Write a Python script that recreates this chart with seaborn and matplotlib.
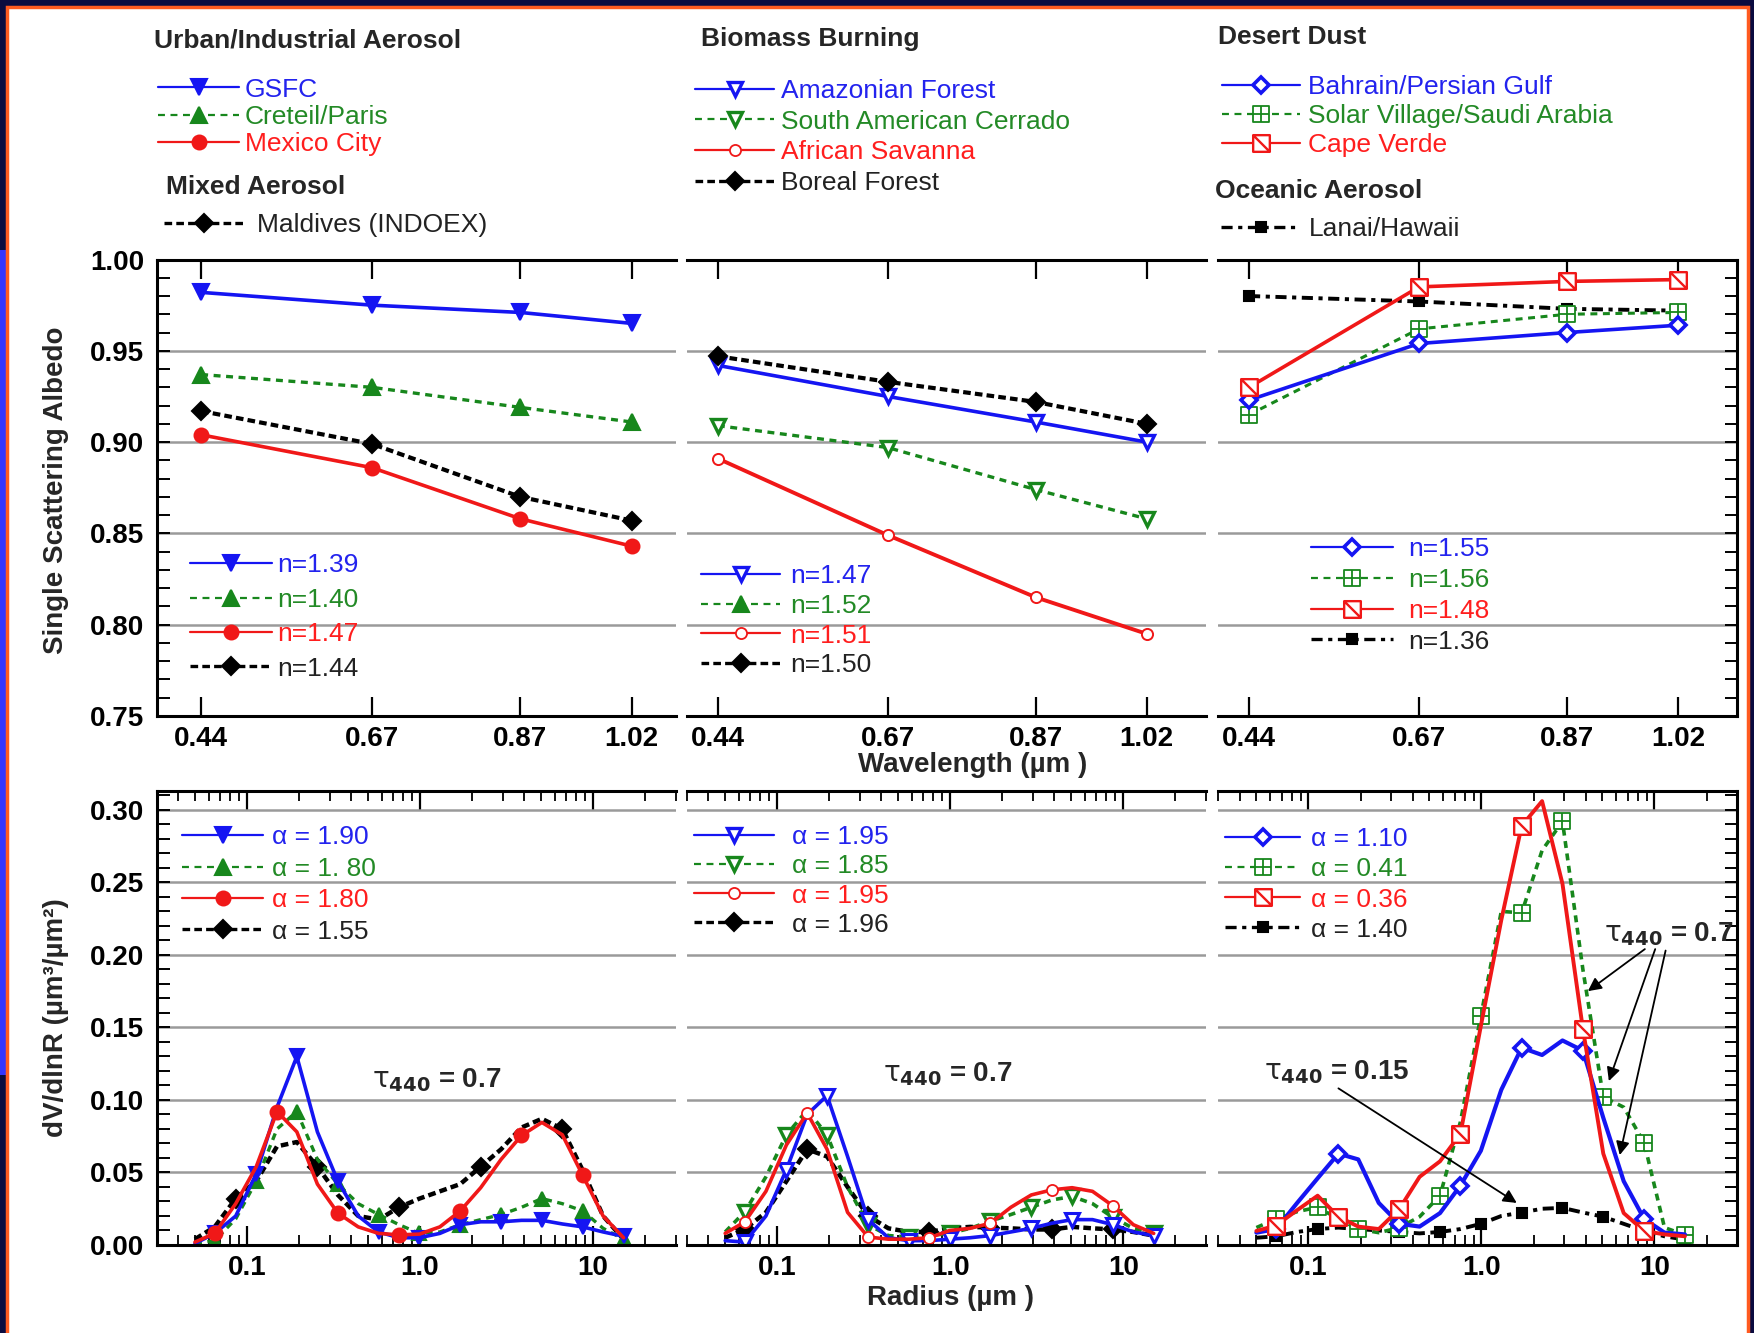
import numpy as np
import matplotlib
matplotlib.use("Agg")
import matplotlib.pyplot as plt
import seaborn as sns
from matplotlib.lines import Line2D
from matplotlib.path import Path
from matplotlib.patches import Rectangle
from matplotlib.ticker import MultipleLocator, LogLocator, NullFormatter

sns.set_theme(style="white")
plt.rcParams["font.family"] = ["Liberation Sans", "DejaVu Sans"]
plt.rcParams["lines.scale_dashes"] = False

# ---------------- single scattering albedo vs wavelength ----------------
wavelength = [0.44, 0.67, 0.87, 1.02]
wavelength_labels = ["0.44", "0.67", "0.87", "1.02"]

ssa_gsfc = [0.982, 0.975, 0.971, 0.965]
ssa_creteil = [0.937, 0.930, 0.919, 0.911]
ssa_mexico = [0.904, 0.886, 0.858, 0.843]
ssa_maldives = [0.917, 0.899, 0.870, 0.857]

ssa_amazon = [0.942, 0.925, 0.911, 0.900]
ssa_cerrado = [0.909, 0.897, 0.874, 0.858]
ssa_savanna = [0.891, 0.849, 0.815, 0.795]
ssa_boreal = [0.947, 0.933, 0.922, 0.910]

ssa_bahrain = [0.923, 0.954, 0.960, 0.964]
ssa_solar = [0.915, 0.962, 0.970, 0.971]
ssa_capeverde = [0.930, 0.985, 0.988, 0.989]
ssa_lanai = [0.980, 0.977, 0.973, 0.972]

# ---------------- volume size distributions ----------------
radius = [0.050, 0.065, 0.086, 0.113, 0.149, 0.194, 0.255, 0.335, 0.439, 0.576, 0.756,
          0.992, 1.302, 1.708, 2.241, 2.940, 3.857, 5.061, 6.641, 8.713, 11.43, 15.0]

dv_gsfc = [0.001, 0.008, 0.020, 0.049, 0.095, 0.130, 0.078, 0.044, 0.020, 0.009, 0.005,
           0.005, 0.008, 0.014, 0.016, 0.016, 0.017, 0.017, 0.0145, 0.0125, 0.009, 0.006]
dv_creteil = [0.001, 0.003, 0.018, 0.044, 0.080, 0.092, 0.059, 0.042, 0.0285, 0.021, 0.014,
              0.008, 0.009, 0.014, 0.0175, 0.021, 0.026, 0.032, 0.0285, 0.0235, 0.0115, 0.004]
dv_mexico = [0.002, 0.008, 0.0285, 0.054, 0.092, 0.078, 0.042, 0.022, 0.0125, 0.008, 0.007,
             0.0075, 0.0125, 0.0235, 0.0395, 0.059, 0.0755, 0.0845, 0.076, 0.048, 0.020, 0.005]
dv_maldives = [0.004, 0.0125, 0.032, 0.044, 0.068, 0.071, 0.054, 0.0345, 0.020, 0.0175, 0.026,
               0.032, 0.037, 0.042, 0.054, 0.066, 0.081, 0.087, 0.080, 0.0515, 0.020, 0.004]

dv_amazon = [0.003, 0.002, 0.020, 0.052, 0.090, 0.103, 0.061, 0.0175, 0.005, 0.003, 0.003,
             0.004, 0.005, 0.0065, 0.009, 0.0115, 0.015, 0.0175, 0.0175, 0.014, 0.009, 0.0065]
dv_cerrado = [0.009, 0.023, 0.047, 0.076, 0.093, 0.076, 0.040, 0.014, 0.0065, 0.0055, 0.0065,
              0.008, 0.0115, 0.0165, 0.021, 0.026, 0.031, 0.0335, 0.0285, 0.019, 0.0115, 0.008]
dv_savanna = [0.008, 0.016, 0.037, 0.069, 0.091, 0.066, 0.0225, 0.0055, 0.004, 0.004, 0.005,
              0.010, 0.0115, 0.015, 0.026, 0.0345, 0.038, 0.0395, 0.037, 0.027, 0.014, 0.008]
dv_boreal = [0.005, 0.011, 0.0225, 0.044, 0.066, 0.061, 0.040, 0.020, 0.0115, 0.009, 0.009,
             0.0115, 0.0125, 0.012, 0.0115, 0.0107, 0.0107, 0.0125, 0.0115, 0.0107, 0.009, 0.0065]

dv_bahrain = [0.0085, 0.011, 0.029, 0.046, 0.063, 0.059, 0.029, 0.0146, 0.0127, 0.022, 0.041,
              0.065, 0.107, 0.136, 0.131, 0.141, 0.134, 0.0877, 0.044, 0.018, 0.0085, 0.0073]
dv_solar = [0.012, 0.018, 0.023, 0.026, 0.018, 0.011, 0.0085, 0.012, 0.0195, 0.034, 0.085,
            0.158, 0.230, 0.229, 0.272, 0.292, 0.190, 0.102, 0.095, 0.0706, 0.012, 0.007]
dv_capeverde = [0.0097, 0.0134, 0.024, 0.034, 0.0195, 0.0127, 0.011, 0.0248, 0.047, 0.0577, 0.0767,
                0.151, 0.224, 0.289, 0.306, 0.249, 0.149, 0.063, 0.022, 0.0097, 0.0073, 0.006]
dv_lanai = [0.005, 0.006, 0.009, 0.011, 0.012, 0.011, 0.010, 0.009, 0.008, 0.009, 0.011,
            0.0146, 0.020, 0.0224, 0.025, 0.0256, 0.0224, 0.0195, 0.0146, 0.0097, 0.006, 0.0037]

radius_ticks = [0.1, 1.0, 10.0]
radius_labels = ["0.1", "1.0", "10"]
dv_ticks = [0.00, 0.05, 0.10, 0.15, 0.20, 0.25, 0.30]
ssa_ticks = [0.75, 0.80, 0.85, 0.90, 0.95, 1.00]

# ---------------- styling ----------------
BLUE, GREEN, RED, BLACK = "#1515f2", "#17871c", "#f01818", "#000000"
TXT = {"b": "#2323ee", "g": "#238a26", "r": "#ff1e1e", "k": "#222222"}
DASH_G = (0, (5, 4))
DASH_K = (0, (5.5, 3))
DASHDOT = (0, (8, 4, 3, 4))

grid_square = Path(
    [(-1, -1), (1, -1), (1, 1), (-1, 1), (-1, -1), (0, -1), (0, 1), (-1, 0), (1, 0)],
    [Path.MOVETO, Path.LINETO, Path.LINETO, Path.LINETO, Path.CLOSEPOLY,
     Path.MOVETO, Path.LINETO, Path.MOVETO, Path.LINETO])
slash_square = Path(
    [(-1, -1), (1, -1), (1, 1), (-1, 1), (-1, -1), (-1, 1), (1, -1)],
    [Path.MOVETO, Path.LINETO, Path.LINETO, Path.LINETO, Path.CLOSEPOLY,
     Path.MOVETO, Path.LINETO])


def style(color, ls, marker, ms, filled=True, lw=2.6, mew=1.5):
    return dict(color=color, linestyle=ls, linewidth=lw, marker=marker, markersize=ms,
                markerfacecolor=color if filled else "white",
                markeredgecolor=color, markeredgewidth=mew)


def key(color, ls, marker, ms, filled=True, lw=1.6, mew=1.5):
    return Line2D([], [], **style(color, ls, marker, ms, filled, lw, mew))


def draw(ax, x, y, st, every=None):
    sns.lineplot(x=x, y=y, ax=ax, sort=False, estimator=None, legend=False,
                 markevery=every, **st)


W, H = 1754, 1333
fig = plt.figure(figsize=(W / 100, H / 100), dpi=100)
fig.patch.set_facecolor("#0b0b3f")


def fx(px):
    return px / W


def fy(py):
    return 1 - py / H


fig.add_artist(Rectangle((0, fy(1075)), fx(6), fy(250) - fy(1075), transform=fig.transFigure,
                         facecolor="#3434ff", edgecolor="none", zorder=-6))
fig.add_artist(Rectangle((fx(7), -0.01), fx(1748) - fx(7), fy(7) + 0.01, transform=fig.transFigure,
                         facecolor="white", edgecolor="#ff5a1f", lw=2.5, zorder=-5))

col_x = [156.6, 686.8, 1218.0]
col_w = 519.0
rows = [(259.5, 716.0), (791.0, 1245.0)]
axes = [[fig.add_axes([fx(x0), fy(yb), col_w / W, (yb - yt) / H]) for x0 in col_x]
        for (yt, yb) in rows]


def frame(ax, col):
    ax.set_facecolor("white")
    for s in ax.spines.values():
        s.set_color("black")
        s.set_linewidth(2.2)
    ax.spines["left"].set_visible(col == 0)
    ax.spines["right"].set_visible(col == 2)
    ax.grid(axis="y", which="major", color="#9a9a9a", lw=1.8)
    ax.grid(axis="x", visible=False)
    ax.set_axisbelow(True)
    ax.tick_params(axis="x", which="both", direction="in", top=True, bottom=True,
                   color="black", labelsize=20, pad=7, labelcolor="black")
    ax.tick_params(axis="x", which="major", length=14, width=1.6)
    ax.tick_params(axis="x", which="minor", length=7, width=1.3)
    ax.tick_params(axis="y", which="both", direction="in", left=(col == 0), right=(col == 2),
                   labelleft=(col == 0), labelright=False, length=9, width=1.4,
                   color="black", labelsize=20, pad=9, labelcolor="black")
    ax.set_xlabel("")
    ax.set_ylabel("")


# ---------------- top row: albedo ----------------
wl_limits = [(0.38, 1.079), (0.398, 1.10), (0.398, 1.10)]
for c in range(3):
    ax = axes[0][c]
    ax.set_xlim(*wl_limits[c])
    ax.set_ylim(0.75, 1.0)

ax = axes[0][0]
draw(ax, wavelength, ssa_gsfc, style(BLUE, "-", "v", 11))
draw(ax, wavelength, ssa_creteil, style(GREEN, DASH_G, "^", 11, lw=2.4))
draw(ax, wavelength, ssa_mexico, style(RED, "-", "o", 10))
draw(ax, wavelength, ssa_maldives, style(BLACK, DASH_K, "D", 9, lw=3.0))

ax = axes[0][1]
draw(ax, wavelength, ssa_cerrado, style(GREEN, DASH_G, "v", 10, filled=False, lw=2.4, mew=2.4))
draw(ax, wavelength, ssa_savanna, style(RED, "-", "o", 8, filled=False, lw=2.8, mew=1.4))
draw(ax, wavelength, ssa_amazon, style(BLUE, "-", "v", 10, filled=False, mew=2.4))
draw(ax, wavelength, ssa_boreal, style(BLACK, DASH_K, "D", 9, lw=3.0))

ax = axes[0][2]
draw(ax, wavelength, ssa_lanai, style(BLACK, DASHDOT, "s", 7, lw=2.8))
draw(ax, wavelength, ssa_solar, style(GREEN, DASH_G, grid_square, 12, filled=False, lw=2.2, mew=1.3))
draw(ax, wavelength, ssa_bahrain, style(BLUE, "-", "D", 8, filled=False, mew=2.6))
draw(ax, wavelength, ssa_capeverde, style(RED, "-", slash_square, 12, filled=False, mew=1.7))

for c in range(3):
    ax = axes[0][c]
    frame(ax, c)
    ax.set_xticks(wavelength)
    ax.set_xticklabels(wavelength_labels, fontweight="bold")
    ax.set_yticks(ssa_ticks)
    ax.set_yticklabels(["%.2f" % v for v in ssa_ticks], fontweight="bold")
    ax.yaxis.set_minor_locator(MultipleLocator(0.01))

axes[0][0].set_ylabel("Single Scattering Albedo", fontsize=20, fontweight="bold")
axes[0][0].yaxis.set_label_coords(-0.168, 0.495)
axes[0][1].set_xlabel("Wavelength (\u00b5m )", fontsize=20, fontweight="bold", va="center")
axes[0][1].xaxis.set_label_coords(0.551, -0.107)

# ---------------- bottom row: size distributions ----------------
for c in range(3):
    ax = axes[1][c]
    ax.set_xscale("log")
    ax.set_xlim(0.03, 30)
    ax.set_ylim(0, 0.313)

ax = axes[1][0]
draw(ax, radius, dv_maldives, style(BLACK, DASH_K, "D", 9, lw=3.2), (2, 4))
draw(ax, radius, dv_creteil, style(GREEN, DASH_G, "^", 10, lw=2.4), (1, 2))
draw(ax, radius, dv_gsfc, style(BLUE, "-", "v", 10, lw=2.6), (1, 2))
draw(ax, radius, dv_mexico, style(RED, "-", "o", 10, lw=2.6), (1, 3))

ax = axes[1][1]
draw(ax, radius, dv_boreal, style(BLACK, DASH_K, "D", 9, lw=3.2), (1, 3))
draw(ax, radius, dv_cerrado, style(GREEN, DASH_G, "v", 10, filled=False, lw=2.6, mew=2.4), (1, 2))
draw(ax, radius, dv_amazon, style(BLUE, "-", "v", 10, filled=False, lw=2.6, mew=2.2), (1, 2))
draw(ax, radius, dv_savanna, style(RED, "-", "o", 8, filled=False, lw=2.6, mew=1.3), (1, 3))

ax = axes[1][2]
draw(ax, radius, dv_lanai, style(BLACK, DASHDOT, "s", 7, lw=2.8), (1, 2))
draw(ax, radius, dv_solar, style(GREEN, DASH_G, grid_square, 12, filled=False, lw=2.6, mew=1.3), (1, 2))
draw(ax, radius, dv_bahrain, style(BLUE, "-", "D", 8, filled=False, lw=3.0, mew=2.6), (1, 3))
draw(ax, radius, dv_capeverde, style(RED, "-", slash_square, 12, filled=False, lw=2.8, mew=1.7), (1, 3))

for c in range(3):
    ax = axes[1][c]
    frame(ax, c)
    ax.set_xticks(radius_ticks)
    ax.set_xticklabels(radius_labels, fontweight="bold")
    ax.xaxis.set_minor_locator(LogLocator(base=10, subs=np.arange(2, 10) * 1.0, numticks=30))
    ax.xaxis.set_minor_formatter(NullFormatter())
    ax.set_yticks(dv_ticks)
    ax.set_yticklabels(["%.2f" % v for v in dv_ticks], fontweight="bold")
    ax.yaxis.set_minor_locator(MultipleLocator(0.01))

axes[1][0].set_ylabel("dV/dlnR (\u00b5m\u00b3/\u00b5m\u00b2)", fontsize=20, fontweight="bold")
axes[1][0].yaxis.set_label_coords(-0.168, 0.50)
axes[1][1].set_xlabel("Radius (\u00b5m )", fontsize=20, fontweight="bold", va="center")
axes[1][1].xaxis.set_label_coords(0.509, -0.116)

tau07 = r"$\mathrm{\tau}_{\mathbf{440}}$ = 0.7"
axes[1][0].text(0.53, 0.114, tau07, fontsize=20, fontweight="bold", ha="left", va="center")
axes[1][1].text(0.41, 0.118, tau07, fontsize=20, fontweight="bold", ha="left", va="center")
axes[1][2].text(0.055, 0.119, r"$\mathrm{\tau}_{\mathbf{440}}$ = 0.15", fontsize=20,
                fontweight="bold", ha="left", va="center")
axes[1][2].text(28.5, 0.214, tau07, fontsize=20, fontweight="bold", ha="right", va="center")

arrow = dict(arrowstyle="-|>", lw=1.3, color="black", mutation_scale=20, shrinkA=0, shrinkB=0)
axes[1][2].annotate("", xy=(1.6, 0.029), xytext=(0.149, 0.108), arrowprops=arrow)
for start, end in [((8.8, 0.204), (4.12, 0.175)),
                   ((10.1, 0.204), (5.45, 0.113)),
                   ((11.6, 0.203), (6.3, 0.062))]:
    axes[1][2].annotate("", xy=end, xytext=start, arrowprops=arrow)

# ---------------- legends ----------------
FS = 19


def legend(handles, labels, colors, x_key, y_rows, key_px, gap_px, size=FS):
    fs_px = size * 100 / 72
    text_h = 0.917 * fs_px
    if len(y_rows) > 1:
        spacing = (y_rows[-1] - y_rows[0]) / (len(y_rows) - 1)
        lsp = (spacing - text_h) / fs_px
    else:
        lsp = 0.0
    yc = (y_rows[0] + y_rows[-1]) / 2
    fig.legend(handles, labels, loc="center left", bbox_to_anchor=(fx(x_key), fy(yc)),
               bbox_transform=fig.transFigure, frameon=False, fontsize=size,
               handlelength=key_px / fs_px, handletextpad=gap_px / fs_px, labelspacing=lsp,
               borderpad=0, borderaxespad=0, labelcolor=colors, numpoints=1)


k_gsfc = key(BLUE, "-", "v", 11)
k_creteil = key(GREEN, DASH_G, "^", 11)
k_mexico = key(RED, "-", "o", 10)
k_maldives = key(BLACK, DASH_K, "D", 9, lw=2.4)
k_amazon = key(BLUE, "-", "v", 10, filled=False, mew=2.4)
k_cerrado = key(GREEN, DASH_G, "v", 10, filled=False, mew=2.4)
k_cerrado_n = key(GREEN, DASH_G, "^", 11)
k_savanna = key(RED, "-", "o", 8, filled=False, mew=1.3)
k_boreal = key(BLACK, DASH_K, "D", 9, lw=2.4)
k_bahrain = key(BLUE, "-", "D", 8, filled=False, mew=2.6)
k_solar = key(GREEN, DASH_G, grid_square, 12, filled=False, mew=1.3)
k_cape = key(RED, "-", slash_square, 12, filled=False, mew=1.7)
k_lanai = key(BLACK, DASHDOT, "s", 7, lw=2.4)

# figure-level group legends
fig.text(fx(154), fy(41), "Urban/Industrial Aerosol", fontsize=FS, fontweight="bold", va="center")
legend([k_gsfc, k_creteil, k_mexico], ["GSFC", "Creteil/Paris", "Mexico City"],
       [TXT["b"], TXT["g"], TXT["r"]], 158, [89.5, 116.3, 144.3], 81, 6)
fig.text(fx(165.5), fy(187), "Mixed Aerosol", fontsize=FS, fontweight="bold", va="center")
legend([k_maldives], ["Maldives (INDOEX)"], [TXT["k"]], 164, [225], 79, 14)

fig.text(fx(701), fy(39), "Biomass Burning", fontsize=FS, fontweight="bold", va="center")
legend([k_amazon, k_cerrado, k_savanna, k_boreal],
       ["Amazonian Forest", "South American Cerrado", "African Savanna", "Boreal Forest"],
       [TXT["b"], TXT["g"], TXT["r"], TXT["k"]], 695, [90.6, 119.7, 150.0, 183.5], 79, 7)

fig.text(fx(1218), fy(37), "Desert Dust", fontsize=FS, fontweight="bold", va="center")
legend([k_bahrain, k_solar, k_cape],
       ["Bahrain/Persian Gulf", "Solar Village/Saudi Arabia", "Cape Verde"],
       [TXT["b"], TXT["g"], TXT["r"]], 1221.5, [87, 116, 145], 78.5, 8)
fig.text(fx(1215), fy(191), "Oceanic Aerosol", fontsize=FS, fontweight="bold", va="center")
legend([k_lanai], ["Lanai/Hawaii"], [TXT["k"]], 1221, [229], 79, 9)

# refractive index legends inside the albedo panels
legend([k_gsfc, k_creteil, k_mexico, k_maldives], ["n=1.39", "n=1.40", "n=1.47", "n=1.44"],
       [TXT["b"], TXT["g"], TXT["r"], TXT["k"]], 190, [565, 600, 636.5, 669], 82, 5)
legend([k_amazon, k_cerrado_n, k_savanna, k_boreal], ["n=1.47", "n=1.52", "n=1.51", "n=1.50"],
       [TXT["b"], TXT["g"], TXT["r"], TXT["k"]], 701, [576, 606, 639, 665.6], 79, 10)
legend([k_bahrain, k_solar, k_cape, k_lanai], ["n=1.55", "n=1.56", "n=1.48", "n=1.36"],
       [TXT["b"], TXT["g"], TXT["r"], TXT["k"]], 1311, [549, 578, 607, 642], 82, 15)

# Angstrom exponent legends inside the size distribution panels
legend([k_gsfc, k_creteil, k_mexico, k_maldives],
       ["\u03b1 = 1.90", "\u03b1 = 1. 80", "\u03b1 = 1.80", "\u03b1 = 1.55"],
       [TXT["b"], TXT["g"], TXT["r"], TXT["k"]], 182, [837, 868, 900.5, 932], 81, 9)
legend([k_amazon, k_cerrado, k_savanna, k_boreal],
       ["\u03b1 = 1.95", "\u03b1 = 1.85", "\u03b1 = 1.95", "\u03b1 = 1.96"],
       [TXT["b"], TXT["g"], TXT["r"], TXT["k"]], 694, [837, 867, 897, 925], 80, 18)
legend([k_bahrain, k_solar, k_cape, k_lanai],
       ["\u03b1 = 1.10", "\u03b1 = 0.41", "\u03b1 = 0.36", "\u03b1 = 1.40"],
       [TXT["b"], TXT["g"], TXT["r"], TXT["k"]], 1225, [839, 868, 897, 930], 75, 11)

fig.savefig("out.png", dpi=100, facecolor=fig.get_facecolor())
